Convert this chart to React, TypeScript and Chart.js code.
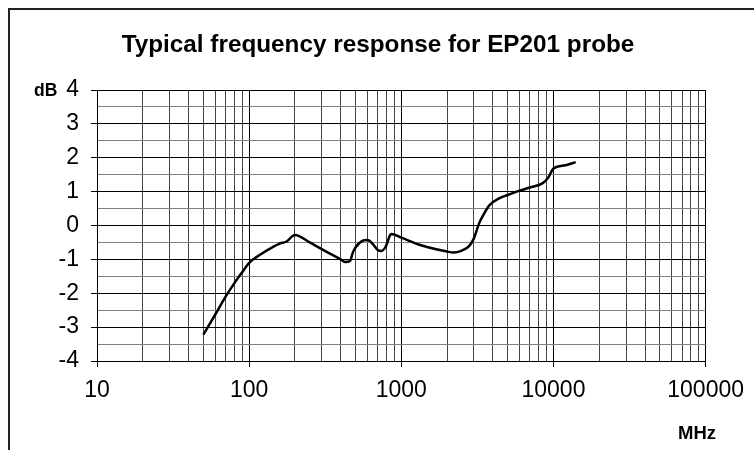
import React, { useEffect, useRef } from "react";
import { Chart, registerables } from "chart.js";

Chart.register(...registerables);

// Frequency (MHz) and response (dB)
const freqMHz = [
  50, 60, 70, 80, 90, 100, 120, 140, 160, 175, 200, 250, 300, 350, 400, 430,
  460, 480, 500, 550, 600, 650, 700, 740, 790, 840, 860, 1000, 1300, 1500,
  2000, 2200, 2500, 2800, 3000, 3250, 3500, 3800, 4400, 5000, 6000, 7000,
  8500, 9200, 10000, 12000, 14000,
];
const responseDb = [
  -3.22, -2.62, -2.1, -1.7, -1.38, -1.1, -0.84, -0.66, -0.53, -0.48, -0.28,
  -0.5, -0.7, -0.86, -1.0, -1.08, -1.05, -0.8, -0.65, -0.46, -0.43, -0.55,
  -0.72, -0.75, -0.62, -0.3, -0.25, -0.36, -0.56, -0.64, -0.77, -0.8, -0.74,
  -0.6, -0.38, 0.07, 0.35, 0.6, 0.8, 0.9, 1.03, 1.12, 1.25, 1.4, 1.68, 1.78,
  1.87,
];

// Axis ranges / ticks
const xMin = 10;
const xMax = 100000;
const xMantissas = [1, 2, 3, 4, 5, 6, 7, 8, 9];
const yMin = -4;
const yMax = 4;
const yStep = 0.5;

const titleText = "Typical frequency response for EP201 probe";
const yUnitLabel = "dB";
const xUnitLabel = "MHz";

const FONT = '"Liberation Sans", Arial, Helvetica, sans-serif';

const isDecade = (v: number) => {
  const l = Math.log10(v);
  return Math.abs(l - Math.round(l)) < 1e-9;
};

export default function App() {
  const canvasRef = useRef<HTMLCanvasElement>(null);

  useEffect(() => {
    document.documentElement.style.overflow = "hidden";
    document.body.style.margin = "8px 0 0 8px";
    const canvas = canvasRef.current;
    if (!canvas) return;

    const overlay = {
      id: "overlay",
      afterDraw(chart: any) {
        const ctx = chart.ctx as CanvasRenderingContext2D;
        const area = chart.chartArea;
        ctx.save();
        // outer frame (left and top edges)
        ctx.strokeStyle = "#222";
        ctx.lineWidth = 2;
        ctx.beginPath();
        ctx.moveTo(1, chart.height);
        ctx.lineTo(1, 1);
        ctx.lineTo(chart.width, 1);
        ctx.stroke();
        // title
        ctx.fillStyle = "#000";
        ctx.font = `bold 24.3px ${FONT}`;
        ctx.textAlign = "center";
        ctx.textBaseline = "alphabetic";
        ctx.fillText(titleText, 370, 44);
        // unit labels
        ctx.textAlign = "left";
        ctx.font = `bold 17.5px ${FONT}`;
        ctx.fillText(yUnitLabel, 26, area.top + 6);
        ctx.font = `bold 18.5px ${FONT}`;
        ctx.fillText(xUnitLabel, 670, 431);
        ctx.restore();
      },
    };

    const xTicks: { value: number }[] = [];
    for (let e = 1; e <= 5; e++) {
      for (const m of xMantissas) {
        const v = m * Math.pow(10, e);
        if (v >= xMin && v <= xMax) xTicks.push({ value: v });
      }
    }
    const yTicks: { value: number }[] = [];
    for (let v = yMin; v <= yMax + 1e-9; v += yStep) yTicks.push({ value: v });

    const chart = new Chart(canvas, {
      type: "line",
      data: {
        datasets: [
          {
            data: freqMHz.map((f, i) => ({ x: f, y: responseDb[i] })),
            borderColor: "#000",
            borderWidth: 2.5,
            pointRadius: 0,
            fill: false,
            cubicInterpolationMode: "monotone",
          } as any,
        ],
      },
      options: {
        responsive: false,
        animation: false,
        events: [],
        layout: { padding: { top: 82, right: 47, bottom: 0, left: 0 } },
        plugins: {
          legend: { display: false },
          title: { display: false },
          tooltip: { enabled: false },
        },
        scales: {
          x: {
            type: "logarithmic",
            min: xMin,
            max: xMax,
            afterBuildTicks: (scale: any) => {
              scale.ticks = xTicks.map((t) => ({ ...t }));
            },
            afterFit: (scale: any) => {
              scale.height = 89;
            },
            border: { display: true, color: "#000", width: 1 },
            grid: {
              color: (c: any) =>
                c.tick && isDecade(c.tick.value) ? "#000" : "#444",
              tickColor: (c: any) =>
                c.tick && isDecade(c.tick.value) ? "#000" : "rgba(0,0,0,0)",
              lineWidth: 1,
              drawTicks: true,
              tickLength: 6,
            },
            ticks: {
              autoSkip: false,
              maxRotation: 0,
              color: "#000",
              padding: 10,
              font: { family: FONT, size: 23 },
              callback: (v: any) => (isDecade(Number(v)) ? String(v) : ""),
            },
          },
          y: {
            type: "linear",
            min: yMin,
            max: yMax,
            afterBuildTicks: (scale: any) => {
              scale.ticks = yTicks.map((t) => ({ ...t }));
            },
            afterFit: (scale: any) => {
              scale.width = 89;
            },
            border: { display: true, color: "#000", width: 1 },
            grid: {
              color: (c: any) =>
                c.tick && Number.isInteger(c.tick.value) ? "#000" : "#808080",
              tickColor: (c: any) =>
                c.tick && Number.isInteger(c.tick.value)
                  ? "#000"
                  : "rgba(0,0,0,0)",
              lineWidth: 1,
              drawTicks: true,
              tickLength: 6,
            },
            ticks: {
              autoSkip: false,
              color: "#000",
              padding: 12,
              font: { family: FONT, size: 23 },
              callback: (v: any) =>
                Number.isInteger(Number(v)) ? String(v) : "",
            },
          },
        },
      } as any,
      plugins: [overlay],
    });

    return () => chart.destroy();
  }, []);

  return (
    <div style={{ position: "relative" }}>
      <span
        style={{
          position: "absolute",
          left: 454,
          top: -24,
          fontFamily: FONT,
          fontSize: "20px",
          lineHeight: "20px",
          color: "#000",
        }}
      >
        g
      </span>
      <canvas
        ref={canvasRef}
        width={746}
        height={442}
        style={{ display: "block", width: 746, height: 442 }}
      />
    </div>
  );
}
